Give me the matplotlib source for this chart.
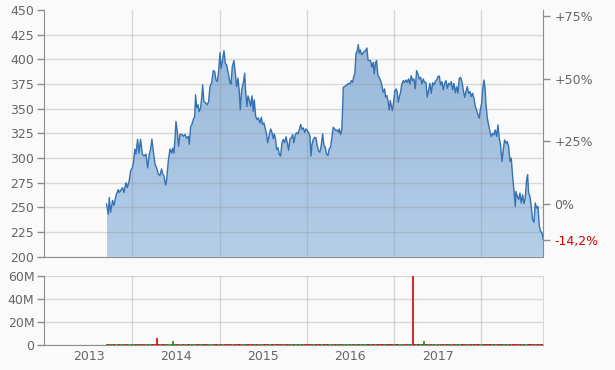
import numpy as np
import matplotlib.pyplot as plt
from matplotlib.colors import LinearSegmentedColormap
from matplotlib.patches import Polygon

# closing prices (decimal year, price)
years = [
    2013.703, 2013.723, 2013.734, 2013.749, 2013.772, 2013.788, 2013.811, 2013.837, 2013.849, 2013.864,
    2013.887, 2013.902, 2013.925, 2013.940, 2013.963, 2013.979, 2013.998, 2014.009, 2014.028, 2014.040,
    2014.059, 2014.074, 2014.093, 2014.113, 2014.132, 2014.155, 2014.174, 2014.193, 2014.208, 2014.223,
    2014.239, 2014.258, 2014.277, 2014.296, 2014.315, 2014.334, 2014.346, 2014.361, 2014.380, 2014.392,
    2014.411, 2014.430, 2014.449, 2014.460, 2014.476, 2014.491, 2014.499, 2014.514, 2014.529, 2014.545,
    2014.564, 2014.583, 2014.602, 2014.621, 2014.640, 2014.652, 2014.667, 2014.682, 2014.697, 2014.713,
    2014.724, 2014.736, 2014.751, 2014.766, 2014.782, 2014.797, 2014.805, 2014.820, 2014.839, 2014.858,
    2014.873,
    2014.889, 2014.908, 2014.927, 2014.943, 2014.958, 2014.973, 2014.988, 2015.004, 2015.015, 2015.030,
    2015.050, 2015.065, 2015.080, 2015.099, 2015.118, 2015.130, 2015.145, 2015.164, 2015.180, 2015.195,
    2015.210, 2015.225, 2015.237, 2015.252, 2015.271, 2015.287, 2015.298, 2015.313, 2015.325, 2015.340,
    2015.355, 2015.371, 2015.386, 2015.397, 2015.413, 2015.428, 2015.443, 2015.462, 2015.478, 2015.493,
    2015.508, 2015.524, 2015.539, 2015.550, 2015.566, 2015.585, 2015.600, 2015.615, 2015.627, 2015.642,
    2015.654, 2015.669, 2015.684, 2015.699, 2015.715, 2015.730, 2015.745, 2015.761, 2015.776, 2015.791,
    2015.807, 2015.822, 2015.837, 2015.852, 2015.868, 2015.883, 2015.898, 2015.914, 2015.929, 2015.944,
    2015.959, 2015.975, 2015.990, 2016.005, 2016.021, 2016.036, 2016.047, 2016.059, 2016.074, 2016.089,
    2016.105, 2016.120, 2016.135,
    2016.150, 2016.165, 2016.181, 2016.196, 2016.211, 2016.226, 2016.242, 2016.257, 2016.272, 2016.288,
    2016.303, 2016.318, 2016.334, 2016.349, 2016.364, 2016.372, 2016.387, 2016.402, 2016.410, 2016.418,
    2016.433, 2016.448, 2016.463, 2016.479, 2016.494, 2016.509, 2016.525, 2016.540, 2016.551, 2016.563,
    2016.578, 2016.590, 2016.601, 2016.613, 2016.628, 2016.643, 2016.658, 2016.674, 2016.689, 2016.701,
    2016.716, 2016.731, 2016.746, 2016.762, 2016.773, 2016.788, 2016.800, 2016.815, 2016.830, 2016.846,
    2016.861, 2016.876, 2016.892, 2016.903, 2016.918, 2016.934, 2016.945, 2016.957, 2016.968, 2016.980,
    2016.995, 2017.010, 2017.025, 2017.037, 2017.048, 2017.060, 2017.075, 2017.090, 2017.106, 2017.121,
    2017.136, 2017.152, 2017.167, 2017.182, 2017.197, 2017.213, 2017.228, 2017.243, 2017.259, 2017.274,
    2017.289, 2017.305, 2017.320, 2017.335, 2017.350, 2017.366, 2017.381, 2017.396,
    2017.412, 2017.427, 2017.443, 2017.458, 2017.473, 2017.488, 2017.504, 2017.519, 2017.534, 2017.550,
    2017.565, 2017.580, 2017.596, 2017.611, 2017.626, 2017.641, 2017.657, 2017.672, 2017.687, 2017.703,
    2017.718, 2017.733, 2017.748, 2017.764, 2017.779, 2017.794, 2017.810, 2017.825, 2017.840, 2017.855,
    2017.871, 2017.886, 2017.901, 2017.917, 2017.932, 2017.947, 2017.963, 2017.978, 2017.989, 2018.005,
    2018.016, 2018.031, 2018.043, 2018.054, 2018.070, 2018.085, 2018.100, 2018.115, 2018.131, 2018.146,
    2018.161, 2018.177, 2018.192, 2018.207, 2018.222, 2018.238, 2018.253, 2018.268, 2018.284, 2018.299,
    2018.314, 2018.330, 2018.345, 2018.360, 2018.375, 2018.391, 2018.398, 2018.414, 2018.429, 2018.444,
    2018.459, 2018.475, 2018.490, 2018.505, 2018.521, 2018.532, 2018.544, 2018.559, 2018.574, 2018.589,
    2018.605, 2018.620, 2018.635, 2018.651, 2018.666, 2018.681, 2018.697, 2018.712,
]
price = [
    253.4, 243, 260, 245, 257, 252, 262, 268, 265, 267,
    270, 265, 275, 270, 277, 287, 290, 294, 309, 304,
    319, 305, 319, 304, 302, 304, 290, 304, 309, 319,
    307, 294, 290, 284, 282, 289, 284, 282, 272.5, 278,
    297, 309, 305, 310, 305, 324, 337, 327, 312, 324,
    324, 322, 324, 320, 322, 314, 332, 334, 339, 342,
    364, 351, 354, 347, 351, 364, 374, 357, 356, 354,
    357,
    372.5, 376, 388.6, 387.6, 379, 377.5, 387.6, 406.7, 391, 397.7,
    408.7, 396, 394.3, 386, 376.5, 375, 392.6, 398.7, 386, 372.5,
    381, 367.4, 349, 369, 375.8, 386, 367.4, 352.3, 363, 359,
    352.3, 363, 347.3, 359, 342.3, 339, 340.6, 335.6, 341.3, 334,
    335.6, 329.5, 323.8, 315.4, 322, 329.5, 326, 319.5, 324.5, 318.8,
    308.7, 310.4, 303.7, 302, 315.4, 318.8, 315.4, 321.5, 315.4, 308,
    319.5, 320.5, 323.8, 315.4, 323.8, 325.5, 324.5, 329, 334, 329,
    330.6, 326, 329.5, 328, 325.5, 322, 302, 313.8, 318.8, 321,
    320.5, 312, 307,
    305.9, 312.6, 324.5, 312.6, 311, 304.2, 302.5, 309.3, 311, 321,
    331.2, 329.5, 327.8, 328.5, 326.1, 329.5, 323.8, 329.5, 349.8, 371.7,
    372.4, 373.4, 374.4, 375.7, 375, 378.4, 376.7, 383.5, 385.2, 405.4,
    408.8, 414.9, 406.1, 409.5, 404.8, 406.1, 408.1, 408.8, 411.5, 399.4,
    398.7, 398.7, 392, 397, 385.2, 397, 398.7, 383.5, 381.8, 378.4,
    373.4, 366.6, 370, 361.6, 363.3, 356.5, 348.7, 358.2, 353.1, 348,
    356.5, 368.3, 370, 366.6, 356.5, 361.6, 366.6, 375, 378.4, 376.7,
    379.1, 376.7, 380.1, 375, 383.5, 378.4, 380.1, 370, 388.6, 385.2,
    380.1, 381.8, 375, 380.1, 376.7, 376.7, 361.6, 368.3,
    375.7, 365.6, 376.3, 374, 377.4, 379, 382.4, 383.1, 374, 377.4,
    369, 375.7, 378.4, 370.6, 375.7, 374, 377.4, 369, 375.7, 366.2,
    372.3, 365.6, 380.7, 381.7, 377.4, 369, 361.5, 367.3, 372.3, 365.6,
    367.3, 362.2, 365.6, 360.5, 352.1, 348.7, 343.7, 340.3, 348.7, 355.5,
    369, 379, 372.3, 355.5, 340.3, 333.6, 326.8, 321.8, 325.1, 323.5,
    328.5, 321.8, 333.6, 320.1, 313.3, 296.5, 308.3, 318.4, 315, 316.7,
    311.7, 296.5, 299.9, 281.3, 267.9, 251, 266.2, 261.1, 257.8, 264.5,
    254.4, 262.8, 253.7, 259.4, 278, 283, 264.5, 261.1, 251, 237.5,
    234.9, 254.4, 249.3, 251, 230.8, 225.8, 224.1, 217.4,
]
assert len(years) == len(price)

# volume (millions): thin daily line plus the few visible spikes
base_volume = 1.0
spike_years = [2014.278, 2014.468, 2017.220, 2017.346]
spike_volume = [6.1, 3.0, 61.0, 3.2]
spike_up = [False, True, False, True]

year_labels = ['2013', '2014', '2015', '2016', '2017']
price_ticks = [200, 225, 250, 275, 300, 325, 350, 375, 400, 425, 450]
pct_ticks = [0, 25, 50, 75]
vol_ticks = [0, 20, 40, 60]

bg = '#fafafa'
grid_c = '#8c8c8c'    # drawn with alpha so it shows through the area fill
spine_c = '#8c8c8c'
text_c = '#666666'
red = '#d40000'
green = '#1e8c1e'

x0, x1 = 2012.985, years[-1]
ref = price[0]

fig = plt.figure(figsize=(6.15, 3.70), dpi=100, facecolor=bg)
ax = fig.add_axes([0.0715, 0.3062, 0.8119, 0.6668], facecolor=bg)
axv = fig.add_axes([0.0715, 0.0684, 0.8119, 0.1848], facecolor=bg)

# price area with vertical gradient, clipped to the area under the line
grad = np.linspace(0, 1, 256).reshape(-1, 1)
cmap = LinearSegmentedColormap.from_list('fill', ['#aac8e6', '#88acd2'])
im = ax.imshow(grad, extent=[years[0], years[-1], 200, 450], origin='lower',
               aspect='auto', cmap=cmap, alpha=0.88, zorder=1)
verts = list(zip(years, price)) + [(years[-1], 200), (years[0], 200)]
clip = Polygon(verts, closed=True, transform=ax.transData, facecolor='none', edgecolor='none')
ax.add_patch(clip)
im.set_clip_path(clip)
ax.plot(years, price, color='#3671b1', lw=1.0, zorder=3)

ax.set_xlim(x0, x1)
ax.set_ylim(200, 450)
ax.set_yticks(price_ticks)
ax.set_xticks(range(2014, 2019))
ax.set_xticklabels([])
ax.set_axisbelow('line')
ax.grid(True, color=grid_c, alpha=0.3, lw=1.0)
ax.yaxis.get_gridlines()[-1].set_visible(False)
ax.tick_params(axis='y', length=5, width=1, color=spine_c, labelcolor=text_c, labelsize=9, pad=2)
ax.tick_params(axis='x', length=0)
for s in ['top', 'right']:
    ax.spines[s].set_visible(False)
for s in ['left', 'bottom']:
    ax.spines[s].set_color(spine_c)

# percent change axis on the right
axr = ax.twinx()
axr.set_ylim(200, 450)
last = price[-1]
axr.set_yticks([ref * (1 + p / 100) for p in pct_ticks] + [last])
chg = (last / ref - 1) * 100
axr.set_yticklabels(['0%' if p == 0 else '+%d%%' % p for p in pct_ticks]
                    + [('%.1f%%' % chg).replace('.', ',')])
axr.tick_params(axis='y', length=5, width=1, color=spine_c, labelcolor=text_c, labelsize=9, pad=3)
axr.get_yticklabels()[-1].set_color(red)
for s in ['top', 'left', 'bottom']:
    axr.spines[s].set_visible(False)
axr.spines['right'].set_color(spine_c)

# volume panel
colors = [green] + [green if b >= a else red for a, b in zip(price[:-1], price[1:])]
axv.vlines(years, 0, base_volume, colors=colors, lw=1.2, zorder=2)
axv.vlines(spike_years, 0, spike_volume, colors=[green if u else red for u in spike_up],
           lw=1.2, zorder=3)
axv.set_xlim(x0, x1)
axv.set_ylim(0, 60)
axv.set_yticks(vol_ticks)
axv.set_yticklabels(['0', '20M', '40M', '60M'])
axv.set_xticks(range(2014, 2019))
axv.set_xticklabels([])
axv.set_xticks([y + 0.5 for y in range(2013, 2018)], minor=True)
axv.set_xticklabels(year_labels, minor=True)
axv.set_axisbelow(True)
axv.grid(True, color=grid_c, alpha=0.3, lw=1.0)
axv.tick_params(axis='y', length=5, width=1, color=spine_c, labelcolor=text_c, labelsize=9, pad=2)
axv.tick_params(axis='x', which='both', length=0, labelcolor=text_c, labelsize=9, pad=4)
axv.spines['top'].set_visible(False)
axv.spines['right'].set_color('#d9d9d9')
for s in ['left', 'bottom']:
    axv.spines[s].set_color(spine_c)

fig.savefig('out.png', dpi=100, facecolor=bg)
